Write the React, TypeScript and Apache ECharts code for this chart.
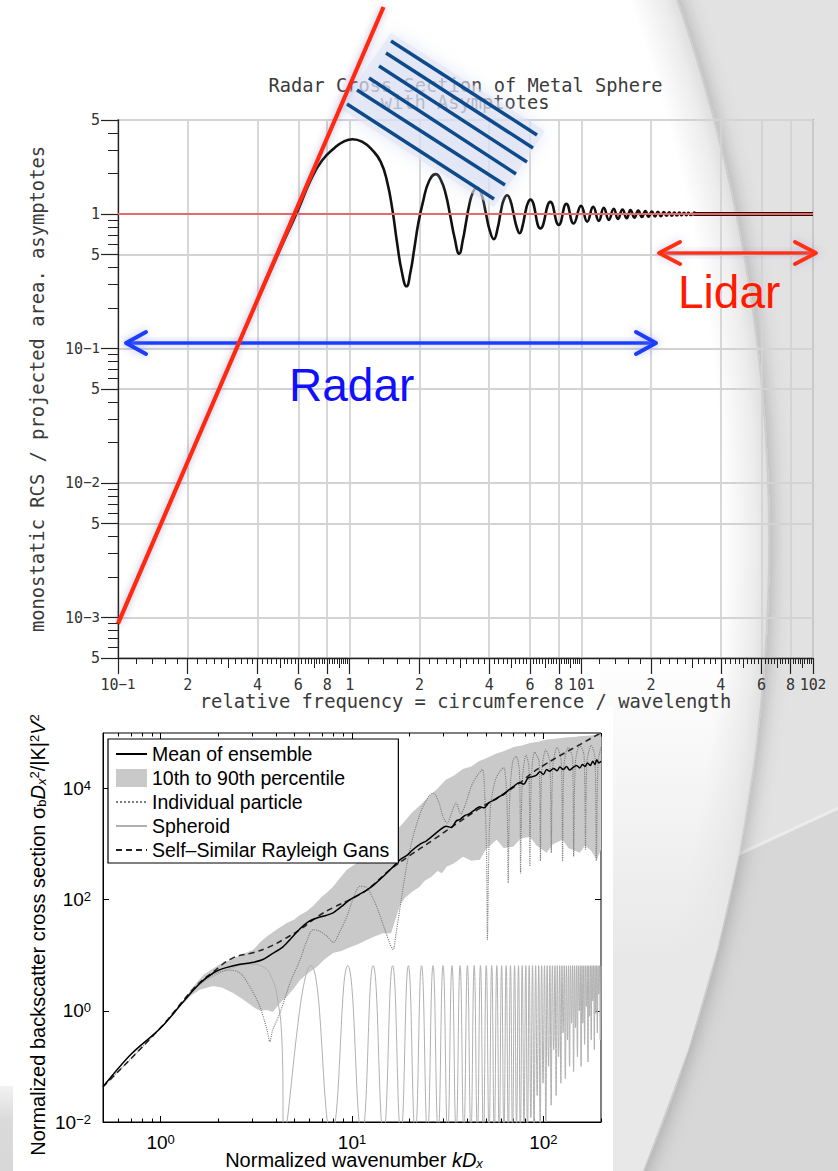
import React, { useEffect, useRef } from 'react';
import * as echarts from 'echarts';

// ---------- Top panel: RCS of a metal sphere, normalised to projected area ----------
// x = circumference / wavelength, y = sigma / (pi a^2)
const sphereRcs: number[][] = [
  [0.1, 0.0009], [0.15, 0.0046], [0.2, 0.0144], [0.3, 0.072], [0.4, 0.226], [0.5, 0.54],
  [0.6, 1.08], [0.68, 1.8], [0.76, 2.5], [0.86, 3.1], [0.95, 3.48], [1.03, 3.6],
  [1.14, 3.42], [1.25, 3.0], [1.36, 2.45], [1.45, 1.75], [1.53, 1.07], [1.6, 0.62],
  [1.68, 0.37], [1.76, 0.29], [1.83, 0.37], [1.9, 0.55], [1.98, 0.86], [2.07, 1.22],
  [2.2, 1.75], [2.355, 1.98], [2.48, 1.78], [2.6, 1.4], [2.72, 0.96], [2.84, 0.66],
  [2.97, 0.506], [3.08, 0.64], [3.18, 0.87], [3.28, 1.16], [3.4, 1.44], [3.55, 1.58],
  [3.7, 1.42], [3.87, 1.02], [4.02, 0.76], [4.19, 0.65], [4.35, 0.78], [4.5, 1.06],
  [4.63, 1.28], [4.78, 1.38], [4.94, 1.26], [5.1, 1.0], [5.26, 0.8], [5.42, 0.72],
  [5.58, 0.82], [5.74, 1.04], [5.88, 1.21], [6.03, 1.28], [6.66, 0.78], [7.35, 1.23],
  [7.99, 0.83], [8.62, 1.19], [9.26, 0.85], [9.97, 1.15], [10.6, 0.877], [11.25, 1.13],
  [11.9, 0.89], [12.5, 1.11], [13.15, 0.905], [13.8, 1.095], [14.4, 0.92], [15.05, 1.08],
  [15.7, 0.93], [16.3, 1.07], [16.95, 0.94], [17.6, 1.06], [18.25, 0.95], [18.9, 1.05],
  [19.5, 0.955], [20.15, 1.045], [20.8, 0.96], [21.4, 1.04], [22.05, 0.965], [22.7, 1.035],
  [23.3, 0.97], [23.95, 1.03], [24.6, 0.972], [25.2, 1.027], [25.85, 0.975], [26.5, 1.025],
  [27.1, 0.978], [27.75, 1.022], [28.4, 0.98], [29.0, 1.02], [29.65, 0.982], [30.3, 1.018],
];
// above x ~ 30 the creeping-wave ripple is finer than the drawn line
const sphereRcsTail: number[][] = [[30.3, 1.018], [31, 1.0], [100, 1.0]];
const opticalLimit: number[][] = [[0.1, 1], [100, 1]];
const rayleighAsymptote: number[][] = [[0.1, 0.0009], [1.4, 34.6]];

const rcsTicksX = [0.1, 0.2, 0.4, 0.6, 0.8, 1, 2, 4, 6, 8, 10, 20, 40, 60, 80, 100];
const rcsMidTicksX = [0.3, 0.5, 0.7, 0.9, 3, 5, 7, 9, 30, 50, 70, 90];
const fineMantissas = [1.2, 1.4, 1.6, 1.8, 2.2, 2.4, 2.6, 2.8, 3.2, 3.4, 3.6, 3.8, 4.2, 4.4, 4.6, 4.8,
  5.2, 5.4, 5.6, 5.8, 6.2, 6.4, 6.6, 6.8, 7.2, 7.4, 7.6, 7.8, 8.2, 8.4, 8.6, 8.8, 9.2, 9.4, 9.6, 9.8];
const rcsDecades = [0.1, 1, 10];
const rcsTicksY = [5e-4, 1e-3, 5e-3, 1e-2, 5e-2, 0.1, 0.5, 1, 5];
const rcsMinorTicksY = [6e-4, 7e-4, 8e-4, 9e-4, 2e-3, 3e-3, 4e-3, 6e-3, 7e-3, 8e-3, 9e-3,
  0.02, 0.03, 0.04, 0.06, 0.07, 0.08, 0.09, 0.2, 0.3, 0.4, 0.6, 0.7, 0.8, 0.9, 2, 3, 4];

// ---------- Bottom panel: normalised backscatter of aggregate particles ----------
const meanEnsemble: number[][] = [
  [0.5, 0.043], [0.7, 0.165], [1, 0.49], [1.3, 1.4], [1.6, 3.1], [1.9, 4.9], [2.2, 6.0],
  [2.6, 6.9], [3.0, 7.4], [3.4, 8.3], [3.8, 10.5], [4.36, 14.2], [4.8, 20], [5.35, 30],
  [5.9, 40], [6.56, 47], [7.3, 52], [7.96, 58], [8.8, 75], [9.76, 100], [10.8, 122],
  [12, 151], [13, 185], [14.5, 259], [16, 360], [17.8, 520], [19.5, 640], [20.5, 760],
  [22.7, 1000], [24.5, 1150], [26, 1350], [28.8, 1800], [31, 2100], [33, 2000], [35, 2600],
  [36.7, 2800], [39, 3300], [41, 3500], [44, 4200], [46.6, 4700], [49, 4500], [52, 5600],
  [56, 6300], [59, 7200], [62, 7800], [66, 9500], [70, 11000], [75, 12800], [79, 12000],
  [83, 15500], [88, 16400], [92, 17500], [96, 20000], [100, 18000], [104, 22000],
  [108, 20500], [113, 23000], [118, 21000], [122, 24500], [127, 22000], [132, 25000],
  [137, 21500], [143, 24000], [149, 26000], [155, 23500], [160, 27000], [165, 25000],
  [170, 29000], [176, 26000], [181, 31000], [186, 27000], [190, 33000], [195, 29000], [200, 31000],
];
const percentile90: number[][] = [
  [1.3, 1.45], [1.45, 2.5], [1.67, 4.4], [2.0, 6.6], [2.4, 8.8], [2.7, 10.5], [3.05, 12.6],
  [3.3, 17], [3.6, 22], [4.1, 30], [4.56, 38], [5.0, 44], [5.3, 52], [5.8, 62], [6.28, 78],
  [7.0, 115], [7.5, 140], [8.0, 174], [8.7, 250], [9.4, 347], [10.5, 450], [11.9, 620],
  [14, 1100], [16, 1600], [18, 2150], [20.6, 3700], [23, 5200], [25.5, 7400], [28, 10000],
  [31, 14500], [34, 17000], [38, 22500], [42, 25000], [46, 31000], [51, 36000], [56, 42000],
  [63, 48000], [70, 56000], [78, 60000], [85, 66000], [95, 70000], [104, 76000], [115, 79000],
  [130, 83000], [145, 85000], [155, 87000], [170, 89000], [185, 92000], [200, 95000],
];
const percentile10: number[][] = [
  [1.3, 1.3], [1.45, 1.9], [1.6, 2.4], [1.88, 2.8], [2.1, 2.6], [2.39, 2.1], [2.7, 1.6],
  [3.04, 1.18], [3.3, 1.0], [3.6, 1.04], [3.85, 0.95], [4.05, 1.18], [4.3, 1.5], [4.56, 1.8],
  [5.0, 2.6], [5.35, 3.6], [5.9, 4.8], [6.56, 6.2], [7.2, 8.5], [7.96, 11], [8.8, 12],
  [9.76, 14], [10.8, 16], [12, 19], [13.2, 22], [14.5, 25], [16, 25], [17.8, 80], [19, 110],
  [20.7, 140], [22.5, 170], [24, 220], [26, 260], [28, 330], [29.5, 300], [31.3, 394],
  [34, 450], [38, 595], [42, 500], [46.6, 525], [50, 800], [57, 1200], [62, 850], [69.5, 900],
  [76, 1250], [85, 1360], [92, 950], [104, 700], [112, 1000], [126, 1200], [135, 850],
  [155, 700], [165, 950], [178, 750], [190, 520], [200, 800],
];
const individualParticle: number[][] = [
  [0.5, 0.043], [1, 0.49], [1.5, 2.5], [1.9, 4.6], [2.3, 5.4], [2.6, 4.8], [2.93, 2.7],
  [3.3, 1.2], [3.6, 0.45], [3.72, 0.28], [3.85, 0.45], [4.2, 0.91], [4.75, 3.2], [5.35, 8.3],
  [5.8, 18], [6.28, 29], [6.8, 27], [7.4, 22], [8.0, 17], [8.6, 26], [9.4, 50], [10.2, 110],
  [11, 174], [11.8, 170], [12.8, 110], [13.8, 60], [14.8, 30], [15.8, 16], [16.4, 12.6],
  [17, 25], [18, 90], [19.5, 500], [21, 1500], [23, 4000], [25, 7000], [26.6, 8300],
  [28.5, 5500], [30, 3000], [31.5, 2400], [33, 3500], [35, 5500], [37, 3500], [39, 5000],
  [42, 11000], [45, 17000], [48, 22000], [49.5, 6000], [50.5, 600], [51, 19], [51.8, 600],
  [53, 5000], [56, 14000], [59, 20000], [62, 24000], [64.5, 6000], [65.5, 200], [66.5, 5000],
  [69, 30000], [72, 38000], [75, 20000], [76, 300], [77.5, 12000], [81, 40000], [84, 25000],
  [85, 400], [86.5, 15000], [90, 45000], [95, 30000], [96.5, 500], [98, 20000], [103, 50000],
  [108, 30000], [110, 700], [112, 25000], [118, 55000], [124, 30000], [126, 500], [128, 25000],
  [135, 55000], [142, 35000], [144, 600], [147, 30000], [155, 60000], [163, 40000], [166, 800],
  [169, 30000], [178, 60000], [186, 35000], [189, 500], [193, 30000], [200, 55000],
];
const spheroid: number[][] = [
  [0.5, 0.043], [0.7, 0.165], [1, 0.49], [1.3, 1.35], [1.6, 2.9], [2.0, 4.6], [2.5, 6.3],
  [3.0, 6.9], [3.4, 6.3], [3.8, 4.0], [4.1, 1.5], [4.3, 0.3], [4.43, 0.006],
  [6.1, 6.5], [7.8, 0.006], [9.5, 6.5], [11.25, 0.006], [12.9, 6.5], [14.6, 0.006],
  [16.3, 6.5], [18.0, 0.006], [19.7, 6.5], [21.4, 0.006], [23.1, 6.5], [24.8, 0.006],
  [26.5, 6.5], [28.2, 0.006], [29.9, 6.5], [31.6, 0.006], [33.3, 6.5], [35.0, 0.006],
  [36.7, 6.5], [38.4, 0.006], [40.1, 6.5], [41.8, 0.006], [43.5, 6.5], [45.2, 0.006],
  [46.9, 6.5], [48.6, 0.006], [50.3, 6.5], [52.0, 0.006], [53.7, 6.5], [55.4, 0.006],
  [57.1, 6.5], [58.8, 0.006], [60.5, 6.5], [62.2, 0.006], [63.9, 6.5], [65.6, 0.006],
  [67.3, 6.5], [69.0, 0.006], [70.7, 6.5], [72.4, 0.008], [74.1, 6.5], [75.8, 0.006],
  [77.5, 6.5], [79.2, 0.01], [80.9, 6.5], [82.6, 0.006], [84.3, 6.5], [86.0, 0.012],
  [87.7, 6.5], [89.4, 0.007], [91.1, 6.5], [92.8, 0.03], [94.5, 6.5], [96.2, 0.008],
  [97.9, 6.5], [99.6, 0.05], [101.3, 6.5], [103.0, 0.01], [104.7, 6.5], [106.4, 0.1],
  [108.1, 6.5], [109.8, 0.02], [111.5, 6.5], [113.2, 0.2], [114.9, 6.5], [116.6, 0.03],
  [118.3, 6.5], [120.0, 0.15], [121.7, 6.5], [123.4, 0.05], [125.1, 6.5], [126.8, 0.4],
  [128.5, 6.5], [130.2, 0.06], [131.9, 6.5], [133.6, 0.3], [135.3, 6.5], [137.0, 0.1],
  [138.7, 6.5], [140.4, 0.6], [142.1, 6.5], [143.8, 0.08], [145.5, 6.5], [147.2, 0.5],
  [148.9, 6.5], [150.6, 0.15], [152.3, 6.5], [154.0, 1.0], [155.7, 6.5], [157.4, 0.1],
  [159.1, 6.5], [160.8, 0.6], [162.5, 6.5], [164.2, 0.25], [165.9, 6.5], [167.6, 1.2],
  [169.3, 6.5], [171.0, 0.12], [172.7, 6.5], [174.4, 0.8], [176.1, 6.5], [177.8, 0.3],
  [179.5, 6.5], [181.2, 1.5], [182.9, 6.5], [184.6, 0.2], [186.3, 6.5], [188.0, 0.9],
  [189.7, 6.5], [191.4, 0.4], [193.1, 6.5], [194.8, 2.0], [196.5, 6.5], [198.2, 0.3], [200, 6.5],
];
const rayleighGans: number[][] = [
  [0.5, 0.043], [1, 0.5], [1.5, 2.6], [1.88, 5.0], [2.39, 9.0], [3.04, 11.1], [3.6, 13.6],
  [4.36, 19], [5.35, 29], [6.56, 49], [7.96, 72], [9.76, 100], [12, 151], [15.8, 347],
  [20, 620], [26.6, 1200], [35, 2300], [46, 4300], [60, 7500], [75, 12500], [88, 19500],
  [100, 26000], [120, 38000], [150, 58000], [193, 94000], [200, 98000],
];
const kdMajorTicks = [1, 10, 100];
const kdMinorTicks = [0.6, 0.7, 0.8, 0.9, 2, 3, 4, 5, 6, 7, 8, 9, 20, 30, 40, 50, 60, 70, 80, 90, 200];
const sigmaTicks = [0.01, 1, 100, 10000];

const MINUS = '\u2212';
const MONO = 'DejaVu Sans Mono';
const SANS = 'Liberation Sans';

function decade(v: number): [number, number] {
  const e = Math.floor(Math.log10(v) + 1e-9);
  return [Math.round(v / Math.pow(10, e)), e];
}
function expText(e: number) {
  return e < 0 ? MINUS + String(-e) : String(e);
}
function rcsLabel(v: number) {
  const [m, e] = decade(v);
  if (m !== 1) return `{b|${m}}`;
  if (e === 0) return '{b|1}';
  return `{b|10}{e|${expText(e)}}`;
}
function powLabel(v: number) {
  const [, e] = decade(v);
  return `{b|10}{e|${expText(e)}}`;
}

const rcsRich = {
  b: { fontFamily: MONO, fontSize: 15, color: '#333', lineHeight: 16 },
  e: { fontFamily: MONO, fontSize: 14, color: '#333', lineHeight: 5, verticalAlign: 'top' },
};
const sansRich = {
  b: { fontFamily: SANS, fontSize: 19, color: '#000', lineHeight: 19 },
  e: { fontFamily: SANS, fontSize: 13, color: '#000', lineHeight: 2, verticalAlign: 'top' },
};
const nameRich = {
  n: { fontFamily: SANS, fontSize: 20, color: '#000', lineHeight: 20 },
  i: { fontFamily: SANS, fontSize: 20, color: '#000', lineHeight: 20, fontStyle: 'italic' },
  s: { fontFamily: SANS, fontSize: 13, color: '#000', lineHeight: 6, verticalAlign: 'bottom' },
  si: { fontFamily: SANS, fontSize: 13, color: '#000', lineHeight: 6, verticalAlign: 'bottom', fontStyle: 'italic' },
  p: { fontFamily: SANS, fontSize: 13, color: '#000', lineHeight: 2, verticalAlign: 'top' },
};

const tickLine = (c: string, w: number) => ({ color: c, width: w });

function tickOnlyAxis(base: any, values: number[], length: number, inside: boolean, color: string) {
  return {
    ...base,
    axisLine: { show: false },
    axisTick: { show: true, inside, customValues: values, length, lineStyle: tickLine(color, 1) },
    axisLabel: { show: false },
    splitLine: { show: false },
  };
}

function buildOption() {
  const rcsMinorX = rcsDecades.flatMap((d) => fineMantissas.map((m) => +(m * d).toPrecision(6)));
  const topX = { type: 'log', logBase: 10, gridIndex: 0, min: 0.1, max: 100, position: 'bottom' };
  const topY = { type: 'log', logBase: 10, gridIndex: 0, min: 5e-4, max: 5, position: 'left' };
  const botX = { type: 'log', logBase: 10, gridIndex: 1, min: 0.5, max: 200 };
  const botY = { type: 'log', logBase: 10, gridIndex: 1, min: 0.01, max: 1e5 };

  const stripes = [
    [391, 41, 537, 135], [386, 53, 533, 148], [379, 66, 527, 162],
    [369, 78, 516, 174], [357, 90, 505, 185], [347, 104, 494, 199],
  ];
  const glowBlue = { shadowBlur: 8, shadowColor: 'rgba(110,130,220,0.55)' };
  const glowRed = { shadowBlur: 8, shadowColor: 'rgba(150,150,210,0.5)' };
  const head = (pts: number[][], color: string, glow: any) => ({
    type: 'polyline', z: 100, silent: true, shape: { points: pts },
    style: { stroke: color, lineWidth: 4, lineCap: 'round', lineJoin: 'round', fill: null, ...glow },
  });

  const graphics: any[] = [
    // slide background
    { type: 'rect', z: -100, silent: true, shape: { x: 0, y: 0, width: 838, height: 1171 }, style: { fill: '#e2e2e2' } },
    { type: 'polygon', z: -99, silent: true, shape: { points: [[480, 975], [838, 808], [838, 1171], [480, 1171]] }, style: { fill: '#d7d7d7' } },
    { type: 'line', z: -98, silent: true, shape: { x1: 480, y1: 975, x2: 838, y2: 808 }, style: { stroke: '#ececec', lineWidth: 3 } },
    {
      type: 'circle', z: -97, silent: true, shape: { cx: -869, cy: 541, r: 1638 },
      style: {
        fill: {
          type: 'radial', x: 0.5, y: 0.5, r: 0.5,
          colorStops: [
            { offset: 0, color: '#ffffff' }, { offset: 0.972, color: '#ffffff' },
            { offset: 0.992, color: '#ececec' }, { offset: 1, color: '#dedede' },
          ],
        },
        stroke: '#cdcdcd', lineWidth: 1.5, shadowBlur: 22, shadowColor: 'rgba(0,0,0,0.28)',
      },
    },
    {
      // grey wash inside the lower part of the swoosh
      type: 'polygon', z: -96.5, silent: true,
      shape: { points: [[600, 650], [765, 650], [756, 750], [740, 850], [717, 950], [688, 1050], [643, 1171], [600, 1171]] },
      style: {
        fill: {
          type: 'linear', global: true, x: 0, y: 650, x2: 0, y2: 960,
          colorStops: [{ offset: 0, color: 'rgba(232,232,232,0)' }, { offset: 1, color: 'rgba(232,232,232,1)' }],
        },
      },
    },
    {
      type: 'rect', z: -96, silent: true, shape: { x: 0, y: 1086, width: 14, height: 85 },
      style: { fill: { type: 'linear', x: 0, y: 0, x2: 0, y2: 1, colorStops: [{ offset: 0, color: '#f2f2f2' }, { offset: 0.4, color: '#dadada' }, { offset: 1, color: '#d8d8d8' }] } },
    },
    { type: 'rect', z: -95, silent: true, shape: { x: 13, y: 706, width: 600, height: 465 }, style: { fill: '#ffffff' } },

    // top panel texts
    { type: 'text', z: 5, x: 465.5, y: 85.5, style: { text: 'Radar Cross Section of Metal Sphere', fontFamily: MONO, fontSize: 18.7, fill: '#3a3a3a', align: 'center', verticalAlign: 'middle' } },
    { type: 'text', z: 5, x: 465, y: 102, style: { text: 'with Asymptotes', fontFamily: MONO, fontSize: 18.7, fill: '#3a3a3a', align: 'center', verticalAlign: 'middle' } },
    { type: 'text', z: 5, x: 465.5, y: 701, style: { text: 'relative frequency = circumference / wavelength', fontFamily: MONO, fontSize: 18.8, fill: '#3a3a3a', align: 'center', verticalAlign: 'middle' } },
    { type: 'text', z: 5, x: 37, y: 389, rotation: Math.PI / 2, style: { text: 'monostatic RCS / projected area. asymptotes', fontFamily: MONO, fontSize: 18.8, fill: '#3a3a3a', align: 'center', verticalAlign: 'middle' } },

    // bottom panel axis titles
    { type: 'text', z: 5, x: 354, y: 1160, style: { text: '{n|Normalized wavenumber }{i|kD}{si|x}', rich: nameRich, align: 'center', verticalAlign: 'middle' } },
    { type: 'text', z: 5, x: 38, y: 935, rotation: Math.PI / 2, style: { text: '{n|Normalized backscatter cross section σ}{s|b}{i|D}{si|x}{p|2}{n|/|K|}{p|2}{i|V}{p|2}', rich: nameRich, align: 'center', verticalAlign: 'middle' } },

    // incident wavefront hatch on a pale halo
    {
      type: 'polygon', z: 89, silent: true, shape: { points: [[391, 33], [545, 131], [494, 207], [339, 108]] },
      style: { fill: 'rgba(224,228,244,0.55)', shadowBlur: 18, shadowColor: 'rgba(205,210,238,0.9)' },
    },
    ...stripes.map(([x1, y1, x2, y2]) => ({
      type: 'line', z: 90, silent: true, shape: { x1, y1, x2, y2 },
      style: { stroke: '#0c4a8c', lineWidth: 3.4, lineCap: 'butt' },
    })),

    // radar band arrow
    { type: 'rect', z: 100, silent: true, shape: { x: 127, y: 341.2, width: 527, height: 3.6 }, style: { fill: '#1a3cff', ...glowBlue } },
    head([[146, 332], [126, 343], [146, 354]], '#1a3cff', glowBlue),
    head([[636, 332], [656, 343], [636, 354]], '#1a3cff', glowBlue),
    { type: 'text', z: 100, x: 289, y: 384.5, style: { text: 'Radar', fontFamily: SANS, fontSize: 46, fill: '#1010ff', align: 'left', verticalAlign: 'middle' } },

    // lidar band arrow
    { type: 'rect', z: 100, silent: true, shape: { x: 660, y: 251.2, width: 155, height: 3.6 }, style: { fill: '#ff3010', ...glowRed } },
    head([[680, 242], [659, 253], [680, 264]], '#ff3010', glowRed),
    head([[795, 242], [816, 253], [795, 264]], '#ff3010', glowRed),
    { type: 'text', z: 100, x: 678, y: 292, style: { text: 'Lidar', fontFamily: SANS, fontSize: 46, fill: '#ff1a00', align: 'left', verticalAlign: 'middle' } },
  ];

  const hiddenMarker = { opacity: 0, borderWidth: 0 };

  return {
    animation: false,
    backgroundColor: 'transparent',
    graphic: { elements: graphics },
    grid: [
      { left: 118, top: 120, width: 695, height: 538, show: true, borderColor: '#222', borderWidth: 1.2, backgroundColor: 'transparent', containLabel: false, outerBoundsMode: 'none' },
      { left: 103, top: 733, width: 498, height: 389, show: true, borderColor: '#000', borderWidth: 1, backgroundColor: 'transparent', containLabel: false, outerBoundsMode: 'none' },
    ],
    legend: {
      left: 108, top: 739, orient: 'vertical', selectedMode: false,
      itemWidth: 31, itemHeight: 18, itemGap: 4, padding: [5, 9, 3, 7],
      borderColor: '#000', borderWidth: 1.2, backgroundColor: '#ffffff', z: 20,
      textStyle: { fontFamily: SANS, fontSize: 19.5, color: '#000', lineHeight: 20 },
      data: [
        { name: 'Mean of ensemble', itemStyle: hiddenMarker },
        { name: '10th to 90th percentile', icon: 'rect', itemStyle: { color: '#c9c9c9' } },
        { name: 'Individual particle', itemStyle: hiddenMarker },
        { name: 'Spheroid', itemStyle: hiddenMarker },
        { name: 'Self–Similar Rayleigh Gans', itemStyle: hiddenMarker },
      ],
    },
    xAxis: [
      {
        ...topX,
        axisLine: { show: true, onZero: false, lineStyle: { color: '#222', width: 1.3 } },
        axisTick: { show: true, customValues: rcsTicksX, length: 16, lineStyle: tickLine('#222', 1.2) },
        axisLabel: { show: true, customValues: rcsTicksX, margin: 19, formatter: rcsLabel, rich: rcsRich, color: '#333' },
        splitLine: { show: true, lineStyle: { color: '#d3d3d3', width: 1.8 } },
      },
      tickOnlyAxis(topX, rcsMidTicksX, 10, false, '#222'),
      tickOnlyAxis(topX, rcsMinorX, 6, false, '#222'),
      {
        ...botX, position: 'bottom',
        axisLine: { show: true, onZero: false, lineStyle: { color: '#000', width: 1 } },
        axisTick: { show: true, inside: true, customValues: kdMajorTicks, length: 6, lineStyle: tickLine('#000', 1) },
        axisLabel: { show: true, customValues: kdMajorTicks, margin: 10.5, formatter: powLabel, rich: sansRich },
        splitLine: { show: false },
      },
      tickOnlyAxis({ ...botX, position: 'top' }, kdMajorTicks, 6, true, '#000'),
      tickOnlyAxis({ ...botX, position: 'bottom' }, kdMinorTicks, 3.5, true, '#000'),
      tickOnlyAxis({ ...botX, position: 'top' }, kdMinorTicks, 3.5, true, '#000'),
    ],
    yAxis: [
      {
        ...topY,
        axisLine: { show: true, onZero: false, lineStyle: { color: '#222', width: 1.3 } },
        axisTick: { show: true, customValues: rcsTicksY, length: 17, lineStyle: tickLine('#222', 1.2) },
        axisLabel: { show: true, customValues: rcsTicksY, margin: 18, formatter: rcsLabel, rich: rcsRich, color: '#333' },
        splitLine: { show: true, lineStyle: { color: '#d3d3d3', width: 1.8 } },
      },
      tickOnlyAxis(topY, rcsMinorTicksY, 10, false, '#222'),
      {
        ...botY, position: 'left',
        axisLine: { show: true, onZero: false, lineStyle: { color: '#000', width: 1 } },
        axisTick: { show: true, inside: true, customValues: sigmaTicks, length: 6, lineStyle: tickLine('#000', 1) },
        axisLabel: { show: true, customValues: sigmaTicks, margin: 12, formatter: powLabel, rich: sansRich },
        splitLine: { show: false },
      },
      tickOnlyAxis({ ...botY, position: 'right' }, sigmaTicks, 6, true, '#000'),
    ],
    series: [
      {
        name: 'Metal sphere RCS', type: 'line', xAxisIndex: 0, yAxisIndex: 0, data: sphereRcs,
        smooth: 0.5, symbol: 'none', z: 3, lineStyle: { color: '#111', width: 2.6 },
      },
      {
        name: 'Metal sphere RCS (fine ripple)', type: 'line', xAxisIndex: 0, yAxisIndex: 0, data: sphereRcsTail,
        symbol: 'none', z: 3, lineStyle: { color: '#2b0d0d', width: 4.2 },
      },
      {
        name: 'Optical limit', type: 'line', xAxisIndex: 0, yAxisIndex: 0, data: opticalLimit,
        symbol: 'none', z: 4, lineStyle: { color: '#e46a6a', width: 1.8 },
      },
      {
        name: 'Rayleigh asymptote', type: 'line', xAxisIndex: 0, yAxisIndex: 0, data: rayleighAsymptote,
        symbol: 'none', clip: false, z: 150,
        lineStyle: { color: '#ff2a0a', width: 4.2, shadowBlur: 7, shadowColor: 'rgba(90,90,170,0.45)' },
      },
      {
        name: '10th to 90th percentile', type: 'custom', xAxisIndex: 3, yAxisIndex: 2, coordinateSystem: 'cartesian2d',
        data: [[1, 1]], z: 1, silent: true, itemStyle: { color: '#c9c9c9' },
        renderItem: (_params: any, api: any) => {
          const pts = percentile90.map((p) => api.coord(p))
            .concat(percentile10.slice().reverse().map((p) => api.coord(p)));
          return { type: 'polygon', shape: { points: pts }, style: { fill: '#c9c9c9' } };
        },
      },
      {
        name: 'Spheroid', type: 'line', xAxisIndex: 3, yAxisIndex: 2, data: spheroid,
        smooth: 0.5, symbol: 'none', z: 2, lineStyle: { color: '#b0b0b0', width: 1 }, itemStyle: { color: '#b0b0b0' },
      },
      {
        name: 'Individual particle', type: 'line', xAxisIndex: 3, yAxisIndex: 2, data: individualParticle,
        smooth: 0.3, symbol: 'none', z: 3, lineStyle: { color: '#7c7c7c', width: 1.1, type: 'dotted' }, itemStyle: { color: '#7c7c7c' },
      },
      {
        name: 'Self–Similar Rayleigh Gans', type: 'line', xAxisIndex: 3, yAxisIndex: 2, data: rayleighGans,
        smooth: 0.4, symbol: 'none', z: 4, lineStyle: { color: '#222', width: 1.5, type: [6, 4] }, itemStyle: { color: '#222' },
      },
      {
        name: 'Mean of ensemble', type: 'line', xAxisIndex: 3, yAxisIndex: 2, data: meanEnsemble,
        smooth: 0.3, symbol: 'none', z: 5, lineStyle: { color: '#000', width: 1.5 }, itemStyle: { color: '#000' },
      },
    ],
  };
}

export default function App() {
  const ref = useRef<HTMLDivElement>(null);
  useEffect(() => {
    document.body.style.margin = '0';
    const chart = echarts.init(ref.current as HTMLDivElement, undefined, { renderer: 'svg' });
    chart.setOption(buildOption() as any);
    return () => chart.dispose();
  }, []);
  return <div ref={ref} style={{ position: 'absolute', left: 0, top: 0, width: 838, height: 1171 }} />;
}
